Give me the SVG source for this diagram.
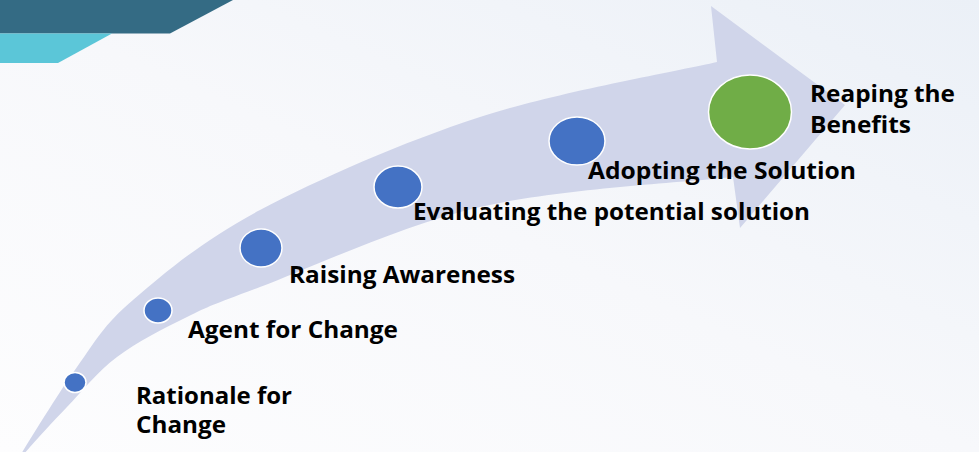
<svg xmlns="http://www.w3.org/2000/svg" width="979" height="452" viewBox="0 0 979 452">
  <defs>
    <linearGradient id="bg" x1="0" y1="1" x2="1" y2="0">
      <stop offset="0" stop-color="#FDFDFE"/>
      <stop offset="0.5" stop-color="#F7F8FB"/>
      <stop offset="1" stop-color="#EBF0F7"/>
    </linearGradient>
    <style>
      .band { fill: #D0D5EA; }
      .dot { fill: #4472C4; stroke: #FFFFFF; stroke-width: 1.5; }
      .dot-final { fill: #70AD47; stroke: #FFFFFF; stroke-width: 1.5; }
      .label { font-family: "Open Sans", "Liberation Sans", sans-serif; font-weight: bold; font-size: 23px; fill: #000000; }
    </style>
  </defs>

  <!-- background -->
  <rect width="979" height="452" fill="url(#bg)"/>

  <!-- corner banners -->
  <polygon points="0,0 233,0 170,33.5 0,33.5" fill="#346B84"/>
  <polygon points="0,33.5 112,33.5 58,63 0,63" fill="#5BC6D8"/>

  <!-- curved progress arrow -->
  <g id="connectors">
    <path class="band" d="M16,462
      C26.2,446.2 57.5,394 77,367
      C96.5,340 102.5,326.2 133,300
      C163.5,273.8 202.2,240.5 260,210
      C317.8,179.5 403.8,141.7 480,117
      C556.2,92.3 677.5,71.2 717,62
      L711,6 L845,105 L740,228 L733,177
      C690.8,182 558.8,188.7 480,207
      C401.2,225.3 308.8,268.7 260,287
      C211.2,305.3 210.8,305.3 187,317
      C163.2,328.7 137,342 117,357
      C97,372 81.5,392 67,407
      C52.5,422 38.2,437.8 30,447
      C21.8,456.2 20,459.5 16,462 Z"/>
  </g>

  <!-- stages -->
  <g id="stage-rationale">
    <ellipse class="dot" cx="75" cy="382.5" rx="11" ry="10"/>
    <text class="label" x="136" y="404" textLength="156" lengthAdjust="spacingAndGlyphs">Rationale for</text>
    <text class="label" x="136" y="433" textLength="90" lengthAdjust="spacingAndGlyphs">Change</text>
  </g>

  <g id="stage-agent">
    <ellipse class="dot" cx="158" cy="310.5" rx="14" ry="12.5"/>
    <text class="label" x="188" y="338" textLength="210" lengthAdjust="spacingAndGlyphs">Agent for Change</text>
  </g>

  <g id="stage-awareness">
    <ellipse class="dot" cx="261" cy="248" rx="21" ry="19"/>
    <text class="label" x="289" y="283" textLength="226" lengthAdjust="spacingAndGlyphs">Raising Awareness</text>
  </g>

  <g id="stage-evaluating">
    <ellipse class="dot" cx="398" cy="187" rx="24" ry="21"/>
    <text class="label" x="413" y="220" textLength="397" lengthAdjust="spacingAndGlyphs">Evaluating the potential solution</text>
  </g>

  <g id="stage-adopting">
    <ellipse class="dot" cx="577" cy="141" rx="28" ry="24"/>
    <text class="label" x="588" y="179" textLength="268" lengthAdjust="spacingAndGlyphs">Adopting the Solution</text>
  </g>

  <g id="stage-benefits">
    <ellipse class="dot-final" cx="750" cy="112" rx="41.5" ry="37"/>
    <text class="label" x="810" y="102" textLength="145" lengthAdjust="spacingAndGlyphs">Reaping the</text>
    <text class="label" x="810" y="133" textLength="101" lengthAdjust="spacingAndGlyphs">Benefits</text>
  </g>
</svg>
